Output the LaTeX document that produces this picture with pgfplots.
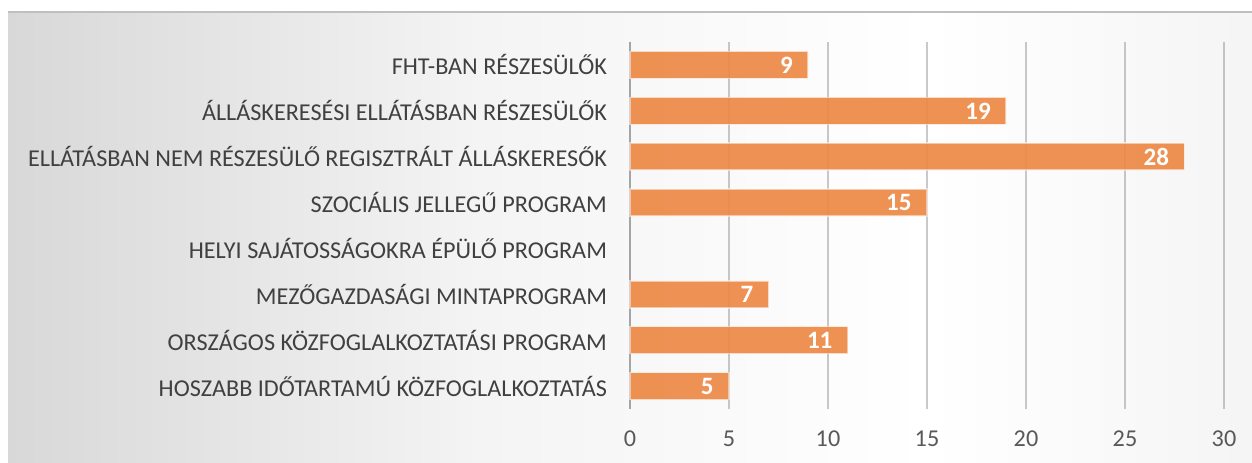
\documentclass[border=0pt]{standalone}
\usepackage{fontspec}
\setmainfont{Carlito}
\usepackage{pgfplots}
\pgfplotsset{compat=1.18}
\definecolor{barc}{RGB}{237,137,70}
\definecolor{lab}{RGB}{64,64,64}
\definecolor{tickc}{RGB}{89,89,89}
\definecolor{gridc}{RGB}{120,120,120}
\definecolor{bgA}{RGB}{196,196,196}
\definecolor{bgB}{RGB}{216,216,216}
\definecolor{bgC}{RGB}{244,244,244}
\definecolor{bgD}{RGB}{255,255,255}
\definecolor{bgE}{RGB}{214,214,214}
\definecolor{bgF}{RGB}{198,198,198}
\pgfdeclarehorizontalshading{bgshade}{100bp}{color(0bp)=(bgA); color(25bp)=(bgB); color(44bp)=(bgC); color(62bp)=(bgD); color(76bp)=(bgC); color(88bp)=(bgE); color(100bp)=(bgF)}
\begin{document}
\begin{tikzpicture}
\path[use as bounding box] (0,0) rectangle (626pt,231pt);
\shade[shading=bgshade] (4pt,0) rectangle (626pt,225pt);
\draw[color=gray!50, line width=1pt] (4pt,225pt) -- (626pt,225pt);
\begin{axis}[
  at={(315pt,26.5pt)}, anchor=south west,
  scale only axis, width=297pt, height=183.5pt,
  xbar, bar width=13.5pt,
  xmin=0, xmax=30, ymin=-0.5, ymax=7.5,
  xtick={0,5,...,30}, ytick={0,...,7},
  yticklabels={HOSZABB IDŐTARTAMÚ KÖZFOGLALKOZTATÁS, ORSZÁGOS KÖZFOGLALKOZTATÁSI PROGRAM, MEZŐGAZDASÁGI MINTAPROGRAM, HELYI SAJÁTOSSÁGOKRA ÉPÜLŐ PROGRAM, SZOCIÁLIS JELLEGŰ PROGRAM, ELLÁTÁSBAN NEM RÉSZESÜLŐ REGISZTRÁLT ÁLLÁSKERESŐK, ÁLLÁSKERESÉSI ELLÁTÁSBAN RÉSZESÜLŐK, FHT-BAN RÉSZESÜLŐK},
  xmajorgrids, major grid style={draw=gridc, draw opacity=0.4, line width=0.75pt},
  axis line style={draw=none},
  major tick length=0,
  tick label style={font=\fontsize{12.1}{14}\selectfont},
  xticklabel style={text=tickc, yshift=-7.5pt},
  yticklabel style={text=lab, xshift=-8pt},
  /pgf/number format/assume math mode=true,
  extra x ticks={0}, extra x tick labels={},
  extra x tick style={grid style={draw=lab, draw opacity=1, line width=1.5pt}},
  nodes near coords,
  every node near coord/.append style={anchor=east, xshift=-4pt, text=white, text opacity=1, font=\bfseries\fontsize{12.5}{14}\selectfont},
  clip=false,
]
\addplot[fill=barc, fill opacity=0.92, draw=white, draw opacity=0.5, line width=0.75pt] coordinates {(5,0) (11,1) (7,2) (15,4) (28,5) (19,6) (9,7)};
\end{axis}
\end{tikzpicture}
\end{document}
